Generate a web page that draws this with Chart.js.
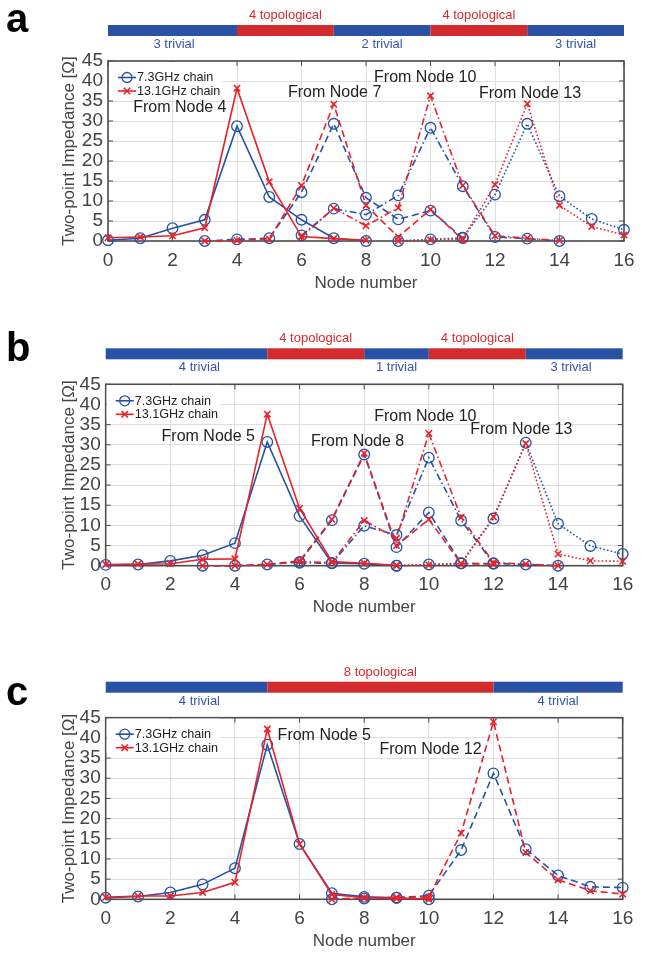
<!DOCTYPE html>
<html>
<head>
<meta charset="utf-8">
<script src="https://cdn.jsdelivr.net/npm/chart.js@4.4.1/dist/chart.umd.min.js"></script>
<style>
    body { margin: 0; background: #fff; }
    #wrap { position: relative; width: 646px; height: 953px; }
    canvas { position: absolute; left: 0; }
</style>
</head>
<body>
<div id="wrap">
    <canvas id="chartA" width="646" height="300" style="top:0px"></canvas>
    <canvas id="chartB" width="646" height="330" style="top:300px"></canvas>
    <canvas id="chartC" width="646" height="323" style="top:630px"></canvas>
</div>
<script>
// Panel a: 3 trivial | 4 topological | 2 trivial | 4 topological | 3 trivial
const aSegEdges = [0, 4, 7, 10, 13, 16];
const aSegLabels = ['3 trivial', '4 topological', '2 trivial', '4 topological', '3 trivial'];
const aNodes4 = [0, 1, 2, 3, 4, 5, 6, 7, 8];
const aBlue4 = [0.2, 0.7, 3.2, 5.3, 28.7, 11.0, 5.3, 0.7, 0.0];
const aRed4 = [0.8, 1.0, 1.3, 3.3, 38.2, 14.8, 1.1, 0.6, 0.2];
const aNodes7 = [3, 4, 5, 6, 7, 8, 9, 10, 11];
const aBlue7 = [0.0, 0.4, 0.7, 12.2, 29.3, 10.8, 5.4, 7.6, 0.8];
const aRed7 = [0.0, 0.1, 0.5, 13.9, 34.2, 8.9, 1.0, 7.9, 0.3];
const aNodes10 = [6, 7, 8, 9, 10, 11, 12, 13, 14];
const aBlue10 = [1.4, 8.1, 6.6, 11.4, 28.3, 13.7, 1.0, 0.6, 0.0];
const aRed10 = [1.0, 8.2, 3.8, 8.3, 36.3, 13.9, 1.3, 0.7, 0.1];
const aNodes13 = [9, 10, 11, 12, 13, 14, 15, 16];
const aBlue13 = [0.0, 0.4, 0.8, 11.6, 29.3, 11.2, 5.5, 2.8];
const aRed13 = [0.0, 0.3, 0.5, 14.1, 34.3, 8.9, 3.6, 1.5];

// Panel b: 4 trivial | 4 topological | 1 trivial | 4 topological | 3 trivial
const bSegEdges = [0, 5, 8, 10, 13, 16];
const bSegLabels = ['4 trivial', '4 topological', '1 trivial', '4 topological', '3 trivial'];
const bNodes5 = [0, 1, 2, 3, 4, 5, 6, 7, 8, 9];
const bBlue5 = [0.2, 0.3, 1.2, 2.6, 5.6, 30.7, 12.3, 0.7, 0.5, 0.0];
const bRed5 = [0.3, 0.4, 0.5, 1.6, 1.7, 37.6, 14.2, 1.0, 0.6, 0.1];
const bNodes8 = [3, 4, 5, 6, 7, 8, 9, 10, 11, 12];
const bBlue8 = [0.0, 0.0, 0.3, 0.9, 11.3, 27.6, 4.6, 13.2, 0.6, 0.5];
const bRed8 = [0.0, 0.0, 0.3, 1.2, 11.5, 27.9, 5.0, 11.5, 0.5, 0.4];
const bNodes10 = [6, 7, 8, 9, 10, 11, 12, 13, 14];
const bBlue10 = [0.7, 0.6, 9.9, 7.6, 26.8, 11.2, 0.6, 0.3, 0.0];
const bRed10 = [1.0, 0.8, 11.2, 6.8, 32.8, 12.0, 0.8, 0.4, 0.0];
const bNodes13 = [9, 10, 11, 12, 13, 14, 15, 16];
const bBlue13 = [0.0, 0.3, 0.6, 11.7, 30.5, 10.4, 4.9, 2.9];
const bRed13 = [0.0, 0.2, 0.5, 12.1, 30.3, 2.9, 1.2, 1.1];

// Panel c: 4 trivial | 8 topological | 4 trivial
const cSegEdges = [0, 5, 12, 16];
const cSegLabels = ['4 trivial', '8 topological', '4 trivial'];
const cNodes5 = [0, 1, 2, 3, 4, 5, 6, 7, 8, 9, 10];
const cBlue5 = [0.4, 0.7, 1.7, 3.7, 7.7, 38.3, 13.7, 1.5, 0.6, 0.4, 0.0];
const cRed5 = [0.5, 0.8, 0.8, 1.7, 4.2, 42.2, 13.7, 1.2, 0.4, 0.2, 0.0];
const cNodes12 = [7, 8, 9, 10, 11, 12, 13, 14, 15, 16];
const cBlue12 = [0.0, 0.2, 0.4, 0.9, 12.2, 31.2, 12.4, 5.9, 3.1, 2.9];
const cRed12 = [0.0, 0.3, 0.5, 0.6, 16.4, 44.0, 11.6, 4.8, 2.1, 1.3];

const FONT = "'Liberation Sans', Arial, Helvetica, sans-serif";
const BLUE = '#2353a6';
const RED = '#ea2128';
const BAR_BLUE = '#2a52a4';
const BAR_RED = '#d32a2d';
const LABEL_BLUE = '#3456b0';
const LABEL_RED = '#d8292f';
const GRID = '#dedede';
const AXIS = '#4d4d4d';
const TICK = '#444444';

const dashes = {
    solid: [],
    dashed: [7, 4],
    dashdot: [7, 3, 1.5, 3],
    dotted: [1.6, 2.2]
};

Chart.defaults.font.family = FONT;

function toPoints(nodes, values) {
    return nodes.map((n, i) => ({ x: n, y: values[i] }));
}

function lineDataset(nodes, values, color, dash, isCross) {
    return {
        data: toPoints(nodes, values),
        borderColor: color,
        borderWidth: 1.6,
        borderDash: dashes[dash],
        tension: 0,
        fill: false,
        clip: false,
        pointStyle: isCross ? 'crossRot' : 'circle',
        pointRadius: isCross ? 4.5 : 5.3,
        pointBorderWidth: isCross ? 1.6 : 1.3,
        pointBorderColor: color,
        pointBackgroundColor: 'rgba(0,0,0,0)'
    };
}

function drawLegend(ctx, area) {
    const L = area.left, T = area.top;
    ctx.fillStyle = '#fff';
    ctx.fillRect(L + 1, T + 1, 113, 34);
    const rows = [
        { y: T + 16.5, color: BLUE, cross: false, text: '7.3GHz chain' },
        { y: T + 30, color: RED, cross: true, text: '13.1GHz chain' }
    ];
    rows.forEach(r => {
        ctx.strokeStyle = r.color;
        ctx.lineWidth = 1.6;
        ctx.setLineDash([]);
        ctx.beginPath();
        ctx.moveTo(L + 10, r.y);
        ctx.lineTo(L + 28, r.y);
        ctx.stroke();
        const cx = L + 19;
        ctx.beginPath();
        if (r.cross) {
            ctx.lineWidth = 1.6;
            ctx.moveTo(cx - 3.2, r.y - 3.2); ctx.lineTo(cx + 3.2, r.y + 3.2);
            ctx.moveTo(cx + 3.2, r.y - 3.2); ctx.lineTo(cx - 3.2, r.y + 3.2);
        } else {
            ctx.lineWidth = 1.3;
            ctx.arc(cx, r.y, 5, 0, Math.PI * 2);
        }
        ctx.stroke();
        ctx.fillStyle = '#222';
        ctx.font = '12.6px ' + FONT;
        ctx.textAlign = 'left';
        ctx.textBaseline = 'middle';
        ctx.fillText(r.text, L + 29, r.y + 0.5);
    });
}

// Box, inward ticks, segment bar, legend and labels
function decorPlugin(panel) {
    return {
        id: 'decor_' + panel.id,
        beforeDatasetsDraw(chart) {
            const { ctx, chartArea: a, scales: { x, y } } = chart;
            ctx.save();
            ctx.strokeStyle = AXIS;
            ctx.lineWidth = 1;
            ctx.beginPath();
            x.ticks.forEach(t => {
                const px = x.getPixelForValue(t.value);
                ctx.moveTo(px, a.bottom); ctx.lineTo(px, a.bottom - 5);
                ctx.moveTo(px, a.top); ctx.lineTo(px, a.top + 5);
            });
            y.ticks.forEach(t => {
                const py = y.getPixelForValue(t.value);
                ctx.moveTo(a.left, py); ctx.lineTo(a.left + 5, py);
                ctx.moveTo(a.right, py); ctx.lineTo(a.right - 5, py);
            });
            ctx.stroke();
            ctx.lineWidth = 1.6;
            ctx.strokeRect(a.left, a.top, a.right - a.left, a.bottom - a.top);
            ctx.restore();
        },
        afterDraw(chart) {
            const { ctx, chartArea: a, scales: { x, y } } = chart;
            ctx.save();

            // segment bar above the axes
            const edges = panel.segEdges;
            for (let i = 0; i < edges.length - 1; i++) {
                const x0 = x.getPixelForValue(edges[i]);
                const x1 = x.getPixelForValue(edges[i + 1]);
                const topo = panel.segLabels[i].indexOf('topological') >= 0;
                ctx.fillStyle = topo ? BAR_RED : BAR_BLUE;
                ctx.fillRect(x0, a.top - 36, x1 - x0, 11);
                ctx.font = '13px ' + FONT;
                ctx.textAlign = 'center';
                ctx.textBaseline = 'middle';
                ctx.fillStyle = topo ? LABEL_RED : LABEL_BLUE;
                const lx = x.getPixelForValue(panel.segLabelX[i]);
                ctx.fillText(panel.segLabels[i], lx, topo ? a.top - 45.5 : a.top - 16.5);
            }

            // "From Node" notes
            ctx.font = '16px ' + FONT;
            ctx.textAlign = 'left';
            ctx.textBaseline = 'middle';
            ctx.fillStyle = '#222';
            panel.notes.forEach(n => {
                ctx.fillText(n.text, x.getPixelForValue(n.x), y.getPixelForValue(n.y));
            });

            drawLegend(ctx, a);

            // panel letter
            ctx.font = 'bold 40px ' + FONT;
            ctx.fillStyle = '#000';
            ctx.textAlign = 'left';
            ctx.textBaseline = 'alphabetic';
            ctx.fillText(panel.letter, 6, panel.letterY);
            ctx.restore();
        }
    };
}

function makePanel(panel) {
    const canvas = document.getElementById(panel.id);
    const H = canvas.height;
    const area = panel.area;
    const reds = panel.series.map(s => lineDataset(s.nodes, s.red, RED, s.dash, true));
    const blues = panel.series.map(s => lineDataset(s.nodes, s.blue, BLUE, s.dash, false));

    return new Chart(canvas.getContext('2d'), {
        type: 'line',
        data: { datasets: reds.concat(blues) },
        options: {
            responsive: false,
            animation: false,
            events: [],
            layout: { padding: { left: 0, right: 646 - area.right, top: area.top, bottom: 0 } },
            plugins: { legend: { display: false }, tooltip: { enabled: false } },
            scales: {
                x: {
                    type: 'linear',
                    min: 0,
                    max: 16,
                    ticks: { stepSize: 2, padding: 8, color: TICK, font: { size: 19 }, maxRotation: 0, autoSkip: false },
                    grid: { color: GRID, lineWidth: 1, drawTicks: false },
                    border: { display: false },
                    title: {
                        display: true,
                        text: 'Node number',
                        color: TICK,
                        font: { size: 17 },
                        padding: { top: 0, bottom: H - (area.bottom + 42) - 10.2 }
                    },
                    afterFit: s => { s.height = H - area.bottom; }
                },
                y: {
                    type: 'linear',
                    min: 0,
                    max: 45,
                    ticks: { stepSize: 5, padding: 5, color: TICK, font: { size: 19, lineHeight: 1 }, autoSkip: false },
                    grid: { color: GRID, lineWidth: 1, drawTicks: false },
                    border: { display: false },
                    title: {
                        display: true,
                        text: 'Two-point Impedance [Ω]',
                        color: TICK,
                        font: { size: 17 },
                        padding: { top: 59, bottom: 0 }
                    },
                    afterFit: s => { s.width = area.left; }
                }
            }
        },
        plugins: [decorPlugin(panel)]
    });
}

makePanel({
    id: 'chartA', letter: 'a', letterY: 32,
    area: { left: 108, right: 624, top: 61, bottom: 241 },
    segEdges: aSegEdges, segLabels: aSegLabels, segLabelX: [2.05, 5.5, 8.5, 11.5, 14.5],
    series: [
        { nodes: aNodes4, blue: aBlue4, red: aRed4, dash: 'solid' },
        { nodes: aNodes7, blue: aBlue7, red: aRed7, dash: 'dashed' },
        { nodes: aNodes10, blue: aBlue10, red: aRed10, dash: 'dashdot' },
        { nodes: aNodes13, blue: aBlue13, red: aRed13, dash: 'dotted' }
    ],
    notes: [
        { text: 'From Node 4', x: 0.78, y: 33.25 },
        { text: 'From Node 7', x: 5.58, y: 37.1 },
        { text: 'From Node 10', x: 8.25, y: 40.75 },
        { text: 'From Node 13', x: 11.5, y: 36.75 }
    ]
});

makePanel({
    id: 'chartB', letter: 'b', letterY: 61,
    area: { left: 105.7, right: 622.7, top: 84.3, bottom: 265.7 },
    segEdges: bSegEdges, segLabels: bSegLabels, segLabelX: [2.9, 6.5, 9.0, 11.5, 14.4],
    series: [
        { nodes: bNodes5, blue: bBlue5, red: bRed5, dash: 'solid' },
        { nodes: bNodes8, blue: bBlue8, red: bRed8, dash: 'dashed' },
        { nodes: bNodes10, blue: bBlue10, red: bRed10, dash: 'dashdot' },
        { nodes: bNodes13, blue: bBlue13, red: bRed13, dash: 'dotted' }
    ],
    notes: [
        { text: 'From Node 5', x: 1.73, y: 32.0 },
        { text: 'From Node 8', x: 6.35, y: 30.8 },
        { text: 'From Node 10', x: 8.31, y: 37.0 },
        { text: 'From Node 13', x: 11.28, y: 33.7 }
    ]
});

makePanel({
    id: 'chartC', letter: 'c', letterY: 75,
    area: { left: 105.7, right: 622.7, top: 87.7, bottom: 269.3 },
    segEdges: cSegEdges, segLabels: cSegLabels, segLabelX: [2.9, 8.5, 14.0],
    series: [
        { nodes: cNodes5, blue: cBlue5, red: cRed5, dash: 'solid' },
        { nodes: cNodes12, blue: cBlue12, red: cRed12, dash: 'dashed' }
    ],
    notes: [
        { text: 'From Node 5', x: 5.32, y: 40.5 },
        { text: 'From Node 12', x: 8.47, y: 37.0 }
    ]
});
</script>
</body>
</html>
